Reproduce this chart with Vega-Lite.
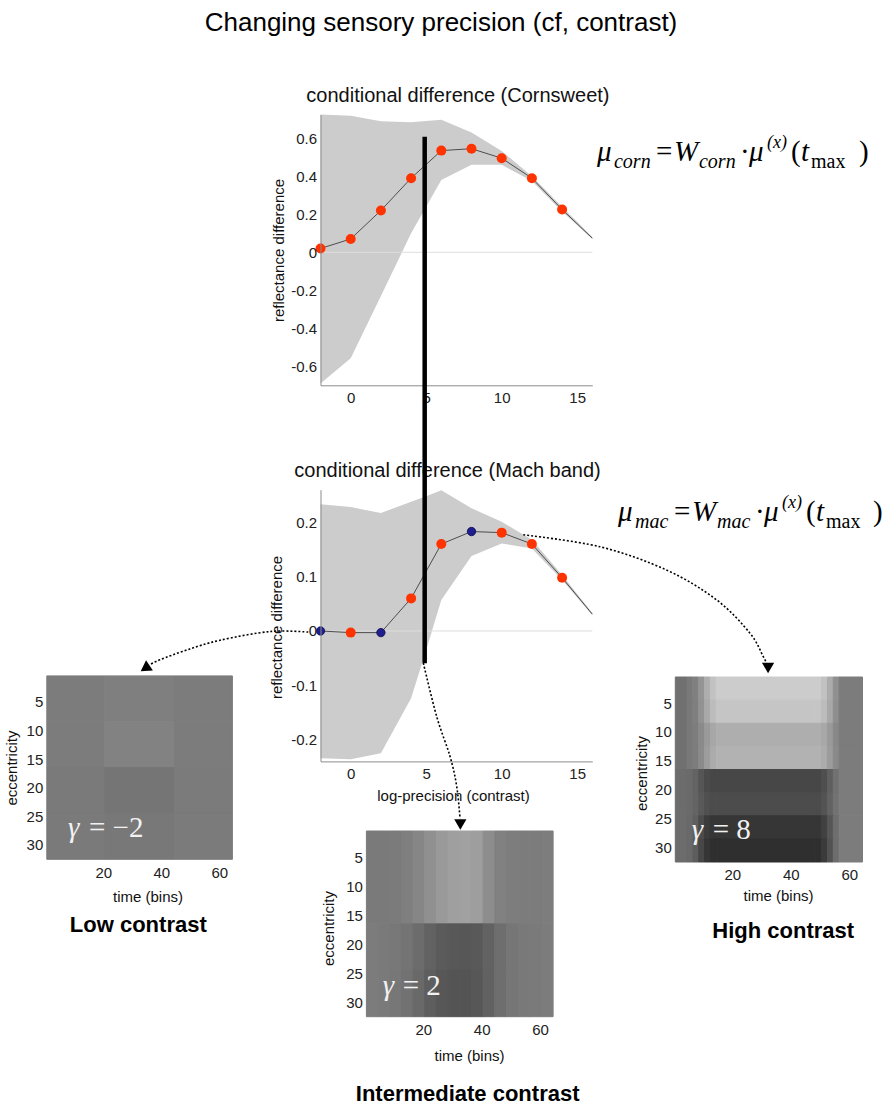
{
  "$schema": "https://vega.github.io/schema/vega-lite/v6.json",
  "width": 886,
  "height": 1108,
  "autosize": "none",
  "padding": 0,
  "background": "white",
  "config": {
    "view": {"stroke": null},
    "axis": {
      "grid": false,
      "ticks": false,
      "labelFont": "Liberation Sans",
      "labelFontSize": 15,
      "labelColor": "#222222",
      "titleFont": "Liberation Sans",
      "titleFontSize": 15,
      "titleFontWeight": "normal",
      "titleColor": "#111111",
      "domainColor": "#8c8c8c"
    }
  },
  "data": {"values": [{}]},
  "datasets": {
    "c1": [
      {"x": -2, "y": 0.02, "m": "red"},
      {"x": 0, "y": 0.07, "m": "red"},
      {"x": 2, "y": 0.22, "m": "red"},
      {"x": 4, "y": 0.39, "m": "red"},
      {"x": 6, "y": 0.535, "m": "red"},
      {"x": 8, "y": 0.545, "m": "red"},
      {"x": 10, "y": 0.495, "m": "red"},
      {"x": 12, "y": 0.39, "m": "red"},
      {"x": 14, "y": 0.225, "m": "red"},
      {"x": 16, "y": 0.074, "m": "none"}
    ],
    "b1": [
      {"x": -2, "lo": -0.69, "hi": 0.725},
      {"x": 0, "lo": -0.558, "hi": 0.719},
      {"x": 2, "lo": -0.23, "hi": 0.69},
      {"x": 4, "lo": 0.1, "hi": 0.684},
      {"x": 6, "lo": 0.38, "hi": 0.698},
      {"x": 8, "lo": 0.46, "hi": 0.63},
      {"x": 10, "lo": 0.46, "hi": 0.533},
      {"x": 12, "lo": 0.375, "hi": 0.4},
      {"x": 14, "lo": 0.215, "hi": 0.24},
      {"x": 16, "lo": 0.07, "hi": 0.08}
    ],
    "c2": [
      {"x": -2, "y": 0.0, "m": "blue"},
      {"x": 0, "y": -0.003, "m": "red"},
      {"x": 2, "y": -0.003, "m": "blue"},
      {"x": 4, "y": 0.06, "m": "red"},
      {"x": 6, "y": 0.16, "m": "red"},
      {"x": 8, "y": 0.183, "m": "blue"},
      {"x": 10, "y": 0.181, "m": "red"},
      {"x": 12, "y": 0.16, "m": "red"},
      {"x": 14, "y": 0.098, "m": "red"},
      {"x": 16, "y": 0.031, "m": "none"}
    ],
    "b2": [
      {"x": -2, "lo": -0.234, "hi": 0.233},
      {"x": 0, "lo": -0.236, "hi": 0.228},
      {"x": 2, "lo": -0.225, "hi": 0.217},
      {"x": 4, "lo": -0.124, "hi": 0.238},
      {"x": 5, "lo": -0.035, "hi": 0.248},
      {"x": 6, "lo": 0.057, "hi": 0.259},
      {"x": 8, "lo": 0.138, "hi": 0.226},
      {"x": 10, "lo": 0.161, "hi": 0.201},
      {"x": 12, "lo": 0.152, "hi": 0.168},
      {"x": 14, "lo": 0.094, "hi": 0.103},
      {"x": 16, "lo": 0.029, "hi": 0.033}
    ],
    "arrows": [
      {"a": "high", "i": 0, "x": 11.43, "y": 0.177},
      {"a": "high", "i": 1, "x": 16.51, "y": 0.155},
      {"a": "high", "i": 2, "x": 20.93, "y": 0.112},
      {"a": "high", "i": 3, "x": 24.24, "y": 0.057},
      {"a": "high", "i": 4, "x": 26.44, "y": -0.004},
      {"a": "high", "i": 5, "x": 27.32, "y": -0.047},
      {"a": "high", "i": 6, "x": 27.55, "y": -0.06},
      {"a": "low", "i": 0, "x": -2.81, "y": -0.002},
      {"a": "low", "i": 1, "x": -5.33, "y": -0.001},
      {"a": "low", "i": 2, "x": -8.65, "y": -0.017},
      {"a": "low", "i": 3, "x": -10.86, "y": -0.035},
      {"a": "low", "i": 4, "x": -12.63, "y": -0.053},
      {"a": "low", "i": 5, "x": -13.3, "y": -0.062},
      {"a": "mid", "i": 0, "x": 4.81, "y": -0.059},
      {"a": "mid", "i": 1, "x": 5.7, "y": -0.158},
      {"a": "mid", "i": 2, "x": 6.58, "y": -0.231},
      {"a": "mid", "i": 3, "x": 7.02, "y": -0.286},
      {"a": "mid", "i": 4, "x": 7.24, "y": -0.345}
    ],
    "heat": [
      {"map": "L", "t0": 0.5, "t1": 20.5, "e0": 0.5, "e1": 8.5, "v": 124},
      {"map": "L", "t0": 20.5, "t1": 44.5, "e0": 0.5, "e1": 8.5, "v": 127},
      {"map": "L", "t0": 44.5, "t1": 64.5, "e0": 0.5, "e1": 8.5, "v": 124},
      {"map": "L", "t0": 0.5, "t1": 20.5, "e0": 8.5, "e1": 16.5, "v": 124},
      {"map": "L", "t0": 20.5, "t1": 44.5, "e0": 8.5, "e1": 16.5, "v": 130},
      {"map": "L", "t0": 44.5, "t1": 64.5, "e0": 8.5, "e1": 16.5, "v": 124},
      {"map": "L", "t0": 0.5, "t1": 20.5, "e0": 16.5, "e1": 24.5, "v": 122},
      {"map": "L", "t0": 20.5, "t1": 44.5, "e0": 16.5, "e1": 24.5, "v": 117},
      {"map": "L", "t0": 44.5, "t1": 64.5, "e0": 16.5, "e1": 24.5, "v": 123},
      {"map": "L", "t0": 0.5, "t1": 20.5, "e0": 24.5, "e1": 32.5, "v": 122},
      {"map": "L", "t0": 20.5, "t1": 44.5, "e0": 24.5, "e1": 32.5, "v": 120},
      {"map": "L", "t0": 44.5, "t1": 64.5, "e0": 24.5, "e1": 32.5, "v": 123},

      {"map": "I", "t0": 0.5, "t1": 4.5, "e0": 0.5, "e1": 16.5, "v": 122},
      {"map": "I", "t0": 4.5, "t1": 8.5, "e0": 0.5, "e1": 16.5, "v": 122},
      {"map": "I", "t0": 8.5, "t1": 12.5, "e0": 0.5, "e1": 16.5, "v": 123},
      {"map": "I", "t0": 12.5, "t1": 16.5, "e0": 0.5, "e1": 16.5, "v": 127},
      {"map": "I", "t0": 16.5, "t1": 20.5, "e0": 0.5, "e1": 16.5, "v": 134},
      {"map": "I", "t0": 20.5, "t1": 24.5, "e0": 0.5, "e1": 16.5, "v": 144},
      {"map": "I", "t0": 24.5, "t1": 28.5, "e0": 0.5, "e1": 16.5, "v": 153},
      {"map": "I", "t0": 28.5, "t1": 32.5, "e0": 0.5, "e1": 16.5, "v": 159},
      {"map": "I", "t0": 32.5, "t1": 36.5, "e0": 0.5, "e1": 16.5, "v": 161},
      {"map": "I", "t0": 36.5, "t1": 40.5, "e0": 0.5, "e1": 16.5, "v": 158},
      {"map": "I", "t0": 40.5, "t1": 44.5, "e0": 0.5, "e1": 16.5, "v": 141},
      {"map": "I", "t0": 44.5, "t1": 48.5, "e0": 0.5, "e1": 16.5, "v": 129},
      {"map": "I", "t0": 48.5, "t1": 52.5, "e0": 0.5, "e1": 16.5, "v": 125},
      {"map": "I", "t0": 52.5, "t1": 56.5, "e0": 0.5, "e1": 16.5, "v": 124},
      {"map": "I", "t0": 56.5, "t1": 60.5, "e0": 0.5, "e1": 16.5, "v": 124},
      {"map": "I", "t0": 60.5, "t1": 64.5, "e0": 0.5, "e1": 16.5, "v": 125},
      {"map": "I", "t0": 0.5, "t1": 4.5, "e0": 16.5, "e1": 24.5, "v": 124},
      {"map": "I", "t0": 4.5, "t1": 8.5, "e0": 16.5, "e1": 24.5, "v": 122},
      {"map": "I", "t0": 8.5, "t1": 12.5, "e0": 16.5, "e1": 24.5, "v": 120},
      {"map": "I", "t0": 12.5, "t1": 16.5, "e0": 16.5, "e1": 24.5, "v": 116},
      {"map": "I", "t0": 16.5, "t1": 20.5, "e0": 16.5, "e1": 24.5, "v": 108},
      {"map": "I", "t0": 20.5, "t1": 24.5, "e0": 16.5, "e1": 24.5, "v": 98},
      {"map": "I", "t0": 24.5, "t1": 28.5, "e0": 16.5, "e1": 24.5, "v": 91},
      {"map": "I", "t0": 28.5, "t1": 32.5, "e0": 16.5, "e1": 24.5, "v": 88},
      {"map": "I", "t0": 32.5, "t1": 36.5, "e0": 16.5, "e1": 24.5, "v": 87},
      {"map": "I", "t0": 36.5, "t1": 40.5, "e0": 16.5, "e1": 24.5, "v": 89},
      {"map": "I", "t0": 40.5, "t1": 44.5, "e0": 16.5, "e1": 24.5, "v": 98},
      {"map": "I", "t0": 44.5, "t1": 48.5, "e0": 16.5, "e1": 24.5, "v": 110},
      {"map": "I", "t0": 48.5, "t1": 52.5, "e0": 16.5, "e1": 24.5, "v": 118},
      {"map": "I", "t0": 52.5, "t1": 56.5, "e0": 16.5, "e1": 24.5, "v": 121},
      {"map": "I", "t0": 56.5, "t1": 60.5, "e0": 16.5, "e1": 24.5, "v": 122},
      {"map": "I", "t0": 60.5, "t1": 64.5, "e0": 16.5, "e1": 24.5, "v": 124},
      {"map": "I", "t0": 0.5, "t1": 4.5, "e0": 24.5, "e1": 32.5, "v": 124},
      {"map": "I", "t0": 4.5, "t1": 8.5, "e0": 24.5, "e1": 32.5, "v": 122},
      {"map": "I", "t0": 8.5, "t1": 12.5, "e0": 24.5, "e1": 32.5, "v": 119},
      {"map": "I", "t0": 12.5, "t1": 16.5, "e0": 24.5, "e1": 32.5, "v": 114},
      {"map": "I", "t0": 16.5, "t1": 20.5, "e0": 24.5, "e1": 32.5, "v": 105},
      {"map": "I", "t0": 20.5, "t1": 24.5, "e0": 24.5, "e1": 32.5, "v": 94},
      {"map": "I", "t0": 24.5, "t1": 28.5, "e0": 24.5, "e1": 32.5, "v": 87},
      {"map": "I", "t0": 28.5, "t1": 32.5, "e0": 24.5, "e1": 32.5, "v": 84},
      {"map": "I", "t0": 32.5, "t1": 36.5, "e0": 24.5, "e1": 32.5, "v": 84},
      {"map": "I", "t0": 36.5, "t1": 40.5, "e0": 24.5, "e1": 32.5, "v": 87},
      {"map": "I", "t0": 40.5, "t1": 44.5, "e0": 24.5, "e1": 32.5, "v": 97},
      {"map": "I", "t0": 44.5, "t1": 48.5, "e0": 24.5, "e1": 32.5, "v": 110},
      {"map": "I", "t0": 48.5, "t1": 52.5, "e0": 24.5, "e1": 32.5, "v": 118},
      {"map": "I", "t0": 52.5, "t1": 56.5, "e0": 24.5, "e1": 32.5, "v": 121},
      {"map": "I", "t0": 56.5, "t1": 60.5, "e0": 24.5, "e1": 32.5, "v": 122},
      {"map": "I", "t0": 60.5, "t1": 64.5, "e0": 24.5, "e1": 32.5, "v": 124},

      {"map": "H", "t0": 0.5, "t1": 4.5, "e0": 0.5, "e1": 4.5, "v": 112},
      {"map": "H", "t0": 4.5, "t1": 6.5, "e0": 0.5, "e1": 4.5, "v": 121},
      {"map": "H", "t0": 6.5, "t1": 8.5, "e0": 0.5, "e1": 4.5, "v": 128},
      {"map": "H", "t0": 8.5, "t1": 10.5, "e0": 0.5, "e1": 4.5, "v": 148},
      {"map": "H", "t0": 10.5, "t1": 12.5, "e0": 0.5, "e1": 4.5, "v": 174},
      {"map": "H", "t0": 12.5, "t1": 14.5, "e0": 0.5, "e1": 4.5, "v": 194},
      {"map": "H", "t0": 14.5, "t1": 48.5, "e0": 0.5, "e1": 4.5, "v": 204},
      {"map": "H", "t0": 48.5, "t1": 50.5, "e0": 0.5, "e1": 4.5, "v": 204},
      {"map": "H", "t0": 50.5, "t1": 52.5, "e0": 0.5, "e1": 4.5, "v": 194},
      {"map": "H", "t0": 52.5, "t1": 54.5, "e0": 0.5, "e1": 4.5, "v": 172},
      {"map": "H", "t0": 54.5, "t1": 56.5, "e0": 0.5, "e1": 4.5, "v": 144},
      {"map": "H", "t0": 56.5, "t1": 64.5, "e0": 0.5, "e1": 4.5, "v": 124},
      {"map": "H", "t0": 0.5, "t1": 4.5, "e0": 4.5, "e1": 8.5, "v": 112},
      {"map": "H", "t0": 4.5, "t1": 6.5, "e0": 4.5, "e1": 8.5, "v": 120},
      {"map": "H", "t0": 6.5, "t1": 8.5, "e0": 4.5, "e1": 8.5, "v": 127},
      {"map": "H", "t0": 8.5, "t1": 10.5, "e0": 4.5, "e1": 8.5, "v": 146},
      {"map": "H", "t0": 10.5, "t1": 12.5, "e0": 4.5, "e1": 8.5, "v": 169},
      {"map": "H", "t0": 12.5, "t1": 14.5, "e0": 4.5, "e1": 8.5, "v": 188},
      {"map": "H", "t0": 14.5, "t1": 48.5, "e0": 4.5, "e1": 8.5, "v": 197},
      {"map": "H", "t0": 48.5, "t1": 50.5, "e0": 4.5, "e1": 8.5, "v": 197},
      {"map": "H", "t0": 50.5, "t1": 52.5, "e0": 4.5, "e1": 8.5, "v": 188},
      {"map": "H", "t0": 52.5, "t1": 54.5, "e0": 4.5, "e1": 8.5, "v": 168},
      {"map": "H", "t0": 54.5, "t1": 56.5, "e0": 4.5, "e1": 8.5, "v": 142},
      {"map": "H", "t0": 56.5, "t1": 64.5, "e0": 4.5, "e1": 8.5, "v": 124},
      {"map": "H", "t0": 0.5, "t1": 4.5, "e0": 8.5, "e1": 12.5, "v": 112},
      {"map": "H", "t0": 4.5, "t1": 6.5, "e0": 8.5, "e1": 12.5, "v": 120},
      {"map": "H", "t0": 6.5, "t1": 8.5, "e0": 8.5, "e1": 12.5, "v": 125},
      {"map": "H", "t0": 8.5, "t1": 10.5, "e0": 8.5, "e1": 12.5, "v": 138},
      {"map": "H", "t0": 10.5, "t1": 12.5, "e0": 8.5, "e1": 12.5, "v": 154},
      {"map": "H", "t0": 12.5, "t1": 14.5, "e0": 8.5, "e1": 12.5, "v": 167},
      {"map": "H", "t0": 14.5, "t1": 48.5, "e0": 8.5, "e1": 12.5, "v": 174},
      {"map": "H", "t0": 48.5, "t1": 50.5, "e0": 8.5, "e1": 12.5, "v": 174},
      {"map": "H", "t0": 50.5, "t1": 52.5, "e0": 8.5, "e1": 12.5, "v": 168},
      {"map": "H", "t0": 52.5, "t1": 54.5, "e0": 8.5, "e1": 12.5, "v": 154},
      {"map": "H", "t0": 54.5, "t1": 56.5, "e0": 8.5, "e1": 12.5, "v": 136},
      {"map": "H", "t0": 56.5, "t1": 64.5, "e0": 8.5, "e1": 12.5, "v": 124},
      {"map": "H", "t0": 0.5, "t1": 4.5, "e0": 12.5, "e1": 16.5, "v": 112},
      {"map": "H", "t0": 4.5, "t1": 6.5, "e0": 12.5, "e1": 16.5, "v": 120},
      {"map": "H", "t0": 6.5, "t1": 8.5, "e0": 12.5, "e1": 16.5, "v": 125},
      {"map": "H", "t0": 8.5, "t1": 10.5, "e0": 12.5, "e1": 16.5, "v": 139},
      {"map": "H", "t0": 10.5, "t1": 12.5, "e0": 12.5, "e1": 16.5, "v": 157},
      {"map": "H", "t0": 12.5, "t1": 14.5, "e0": 12.5, "e1": 16.5, "v": 171},
      {"map": "H", "t0": 14.5, "t1": 48.5, "e0": 12.5, "e1": 16.5, "v": 178},
      {"map": "H", "t0": 48.5, "t1": 50.5, "e0": 12.5, "e1": 16.5, "v": 178},
      {"map": "H", "t0": 50.5, "t1": 52.5, "e0": 12.5, "e1": 16.5, "v": 172},
      {"map": "H", "t0": 52.5, "t1": 54.5, "e0": 12.5, "e1": 16.5, "v": 156},
      {"map": "H", "t0": 54.5, "t1": 56.5, "e0": 12.5, "e1": 16.5, "v": 138},
      {"map": "H", "t0": 56.5, "t1": 64.5, "e0": 12.5, "e1": 16.5, "v": 124},
      {"map": "H", "t0": 0.5, "t1": 4.5, "e0": 16.5, "e1": 20.5, "v": 108},
      {"map": "H", "t0": 4.5, "t1": 6.5, "e0": 16.5, "e1": 20.5, "v": 106},
      {"map": "H", "t0": 6.5, "t1": 8.5, "e0": 16.5, "e1": 20.5, "v": 99},
      {"map": "H", "t0": 8.5, "t1": 10.5, "e0": 16.5, "e1": 20.5, "v": 86},
      {"map": "H", "t0": 10.5, "t1": 12.5, "e0": 16.5, "e1": 20.5, "v": 75},
      {"map": "H", "t0": 12.5, "t1": 14.5, "e0": 16.5, "e1": 20.5, "v": 71},
      {"map": "H", "t0": 14.5, "t1": 48.5, "e0": 16.5, "e1": 20.5, "v": 71},
      {"map": "H", "t0": 48.5, "t1": 50.5, "e0": 16.5, "e1": 20.5, "v": 71},
      {"map": "H", "t0": 50.5, "t1": 52.5, "e0": 16.5, "e1": 20.5, "v": 79},
      {"map": "H", "t0": 52.5, "t1": 54.5, "e0": 16.5, "e1": 20.5, "v": 95},
      {"map": "H", "t0": 54.5, "t1": 56.5, "e0": 16.5, "e1": 20.5, "v": 113},
      {"map": "H", "t0": 56.5, "t1": 64.5, "e0": 16.5, "e1": 20.5, "v": 124},
      {"map": "H", "t0": 0.5, "t1": 4.5, "e0": 20.5, "e1": 24.5, "v": 108},
      {"map": "H", "t0": 4.5, "t1": 6.5, "e0": 20.5, "e1": 24.5, "v": 106},
      {"map": "H", "t0": 6.5, "t1": 8.5, "e0": 20.5, "e1": 24.5, "v": 100},
      {"map": "H", "t0": 8.5, "t1": 10.5, "e0": 20.5, "e1": 24.5, "v": 89},
      {"map": "H", "t0": 10.5, "t1": 12.5, "e0": 20.5, "e1": 24.5, "v": 80},
      {"map": "H", "t0": 12.5, "t1": 14.5, "e0": 20.5, "e1": 24.5, "v": 76},
      {"map": "H", "t0": 14.5, "t1": 48.5, "e0": 20.5, "e1": 24.5, "v": 76},
      {"map": "H", "t0": 48.5, "t1": 50.5, "e0": 20.5, "e1": 24.5, "v": 76},
      {"map": "H", "t0": 50.5, "t1": 52.5, "e0": 20.5, "e1": 24.5, "v": 83},
      {"map": "H", "t0": 52.5, "t1": 54.5, "e0": 20.5, "e1": 24.5, "v": 98},
      {"map": "H", "t0": 54.5, "t1": 56.5, "e0": 20.5, "e1": 24.5, "v": 114},
      {"map": "H", "t0": 56.5, "t1": 64.5, "e0": 20.5, "e1": 24.5, "v": 124},
      {"map": "H", "t0": 0.5, "t1": 4.5, "e0": 24.5, "e1": 28.5, "v": 108},
      {"map": "H", "t0": 4.5, "t1": 6.5, "e0": 24.5, "e1": 28.5, "v": 105},
      {"map": "H", "t0": 6.5, "t1": 8.5, "e0": 24.5, "e1": 28.5, "v": 95},
      {"map": "H", "t0": 8.5, "t1": 10.5, "e0": 24.5, "e1": 28.5, "v": 76},
      {"map": "H", "t0": 10.5, "t1": 12.5, "e0": 24.5, "e1": 28.5, "v": 60},
      {"map": "H", "t0": 12.5, "t1": 14.5, "e0": 24.5, "e1": 28.5, "v": 54},
      {"map": "H", "t0": 14.5, "t1": 48.5, "e0": 24.5, "e1": 28.5, "v": 54},
      {"map": "H", "t0": 48.5, "t1": 50.5, "e0": 24.5, "e1": 28.5, "v": 54},
      {"map": "H", "t0": 50.5, "t1": 52.5, "e0": 24.5, "e1": 28.5, "v": 65},
      {"map": "H", "t0": 52.5, "t1": 54.5, "e0": 24.5, "e1": 28.5, "v": 86},
      {"map": "H", "t0": 54.5, "t1": 56.5, "e0": 24.5, "e1": 28.5, "v": 110},
      {"map": "H", "t0": 56.5, "t1": 64.5, "e0": 24.5, "e1": 28.5, "v": 124},
      {"map": "H", "t0": 0.5, "t1": 4.5, "e0": 28.5, "e1": 32.5, "v": 108},
      {"map": "H", "t0": 4.5, "t1": 6.5, "e0": 28.5, "e1": 32.5, "v": 105},
      {"map": "H", "t0": 6.5, "t1": 8.5, "e0": 28.5, "e1": 32.5, "v": 93},
      {"map": "H", "t0": 8.5, "t1": 10.5, "e0": 28.5, "e1": 32.5, "v": 71},
      {"map": "H", "t0": 10.5, "t1": 12.5, "e0": 28.5, "e1": 32.5, "v": 54},
      {"map": "H", "t0": 12.5, "t1": 14.5, "e0": 28.5, "e1": 32.5, "v": 47},
      {"map": "H", "t0": 14.5, "t1": 48.5, "e0": 28.5, "e1": 32.5, "v": 47},
      {"map": "H", "t0": 48.5, "t1": 50.5, "e0": 28.5, "e1": 32.5, "v": 47},
      {"map": "H", "t0": 50.5, "t1": 52.5, "e0": 28.5, "e1": 32.5, "v": 59},
      {"map": "H", "t0": 52.5, "t1": 54.5, "e0": 28.5, "e1": 32.5, "v": 82},
      {"map": "H", "t0": 54.5, "t1": 56.5, "e0": 28.5, "e1": 32.5, "v": 109},
      {"map": "H", "t0": 56.5, "t1": 64.5, "e0": 28.5, "e1": 32.5, "v": 124}
    ]
  },
  "layer": [
    {
      "layer": [
        {
          "data": {"name": "heat"},
          "transform": [{"filter": "datum.map == 'L'"}],
          "mark": {"type": "rect", "strokeWidth": 1},
          "encoding": {
            "x": {"field": "t0", "type": "quantitative", "scale": {"domain": [0.5, 64.5], "range": [46.8, 232.4], "nice": false, "zero": false},
              "axis": {"orient": "bottom", "offset": -248.7, "values": [20, 40, 60], "domain": false, "labelPadding": 6, "title": "time (bins)", "titleX": 147.5, "titleY": 37.4, "titleBaseline": "middle", "titleAlign": "center"}},
            "x2": {"field": "t1"},
            "y": {"field": "e0", "type": "quantitative", "scale": {"domain": [0.5, 32.5], "range": [675.9, 859.3], "nice": false, "zero": false},
              "axis": {"orient": "left", "offset": -46.8, "values": [5, 10, 15, 20, 25, 30], "domain": false, "labelPadding": 4, "title": "eccentricity", "titleX": -35.1, "titleY": 767.6, "titleBaseline": "middle", "titleAlign": "center", "titleAngle": -90}},
            "y2": {"field": "e1"},
            "color": {"field": "v", "type": "quantitative", "scale": {"domain": [0, 255], "range": ["#000000", "#ffffff"], "interpolate": "rgb"}, "legend": null},
            "stroke": {"field": "v", "type": "quantitative", "scale": {"domain": [0, 255], "range": ["#000000", "#ffffff"], "interpolate": "rgb"}, "legend": null}
          }
        },
        {
          "encoding": {"x": {"datum": 7.8, "type": "quantitative"}, "y": {"datum": 28.6, "type": "quantitative"}},
          "layer": [
            {"mark": {"type": "text", "text": "γ", "font": "Liberation Serif", "fontSize": 29, "fontStyle": "italic", "color": "#f2f2f2", "align": "left", "baseline": "alphabetic"}},
            {"mark": {"type": "text", "text": "= −2", "font": "Liberation Serif", "fontSize": 29, "color": "#f2f2f2", "align": "left", "baseline": "alphabetic", "dx": 21}}
          ]
        },
        {
          "mark": {"type": "text", "text": "Low contrast", "font": "Liberation Sans", "fontSize": 22, "fontWeight": "bold", "color": "#000000", "align": "center", "baseline": "alphabetic"},
          "encoding": {"x": {"datum": 32.05, "type": "quantitative"}, "y": {"datum": 45.1, "type": "quantitative"}}
        }
      ]
    },
    {
      "layer": [
        {
          "data": {"name": "heat"},
          "transform": [{"filter": "datum.map == 'I'"}],
          "mark": {"type": "rect", "strokeWidth": 1},
          "encoding": {
            "x": {"field": "t0", "type": "quantitative", "scale": {"domain": [0.5, 64.5], "range": [366.4, 553.1], "nice": false, "zero": false},
              "axis": {"orient": "bottom", "offset": -91.3, "values": [20, 40, 60], "domain": false, "labelPadding": 6, "title": "time (bins)", "titleX": 469, "titleY": 38.3, "titleBaseline": "middle", "titleAlign": "center"}},
            "x2": {"field": "t1"},
            "y": {"field": "e0", "type": "quantitative", "scale": {"domain": [0.5, 32.5], "range": [831, 1016.7], "nice": false, "zero": false},
              "axis": {"orient": "left", "offset": -366.4, "values": [5, 10, 15, 20, 25, 30], "domain": false, "labelPadding": 4, "title": "eccentricity", "titleX": -38.1, "titleY": 928, "titleBaseline": "middle", "titleAlign": "center", "titleAngle": -90}},
            "y2": {"field": "e1"},
            "color": {"field": "v", "type": "quantitative", "scale": {"domain": [0, 255], "range": ["#000000", "#ffffff"], "interpolate": "rgb"}, "legend": null},
            "stroke": {"field": "v", "type": "quantitative", "scale": {"domain": [0, 255], "range": ["#000000", "#ffffff"], "interpolate": "rgb"}, "legend": null}
          }
        },
        {
          "encoding": {"x": {"datum": 6.1, "type": "quantitative"}, "y": {"datum": 28.8, "type": "quantitative"}},
          "layer": [
            {"mark": {"type": "text", "text": "γ", "font": "Liberation Serif", "fontSize": 29, "fontStyle": "italic", "color": "#f2f2f2", "align": "left", "baseline": "alphabetic"}},
            {"mark": {"type": "text", "text": "= 2", "font": "Liberation Serif", "fontSize": 29, "color": "#f2f2f2", "align": "left", "baseline": "alphabetic", "dx": 20}}
          ]
        },
        {
          "mark": {"type": "text", "text": "Intermediate contrast", "font": "Liberation Sans", "fontSize": 22, "fontWeight": "bold", "color": "#000000", "align": "center", "baseline": "alphabetic"},
          "encoding": {"x": {"datum": 35.2, "type": "quantitative"}, "y": {"datum": 47.05, "type": "quantitative"}}
        }
      ]
    },
    {
      "layer": [
        {
          "data": {"name": "heat"},
          "transform": [{"filter": "datum.map == 'H'"}],
          "mark": {"type": "rect", "strokeWidth": 1},
          "encoding": {
            "x": {"field": "t0", "type": "quantitative", "scale": {"domain": [0.5, 64.5], "range": [675.3, 862.5], "nice": false, "zero": false},
              "axis": {"orient": "bottom", "offset": -246, "values": [20, 40, 60], "domain": false, "labelPadding": 5, "title": "time (bins)", "titleX": 778, "titleY": 33, "titleBaseline": "middle", "titleAlign": "center"}},
            "x2": {"field": "t1"},
            "y": {"field": "e0", "type": "quantitative", "scale": {"domain": [0.5, 32.5], "range": [677, 862], "nice": false, "zero": false},
              "axis": {"orient": "left", "offset": -675.3, "values": [5, 10, 15, 20, 25, 30], "domain": false, "labelPadding": 4, "title": "eccentricity", "titleX": -33.6, "titleY": 773, "titleBaseline": "middle", "titleAlign": "center", "titleAngle": -90}},
            "y2": {"field": "e1"},
            "color": {"field": "v", "type": "quantitative", "scale": {"domain": [0, 255], "range": ["#000000", "#ffffff"], "interpolate": "rgb"}, "legend": null},
            "stroke": {"field": "v", "type": "quantitative", "scale": {"domain": [0, 255], "range": ["#000000", "#ffffff"], "interpolate": "rgb"}, "legend": null}
          }
        },
        {
          "encoding": {"x": {"datum": 6.1, "type": "quantitative"}, "y": {"datum": 28.5, "type": "quantitative"}},
          "layer": [
            {"mark": {"type": "text", "text": "γ", "font": "Liberation Serif", "fontSize": 29, "fontStyle": "italic", "color": "#f2f2f2", "align": "left", "baseline": "alphabetic"}},
            {"mark": {"type": "text", "text": "= 8", "font": "Liberation Serif", "fontSize": 29, "color": "#f2f2f2", "align": "left", "baseline": "alphabetic", "dx": 21}}
          ]
        },
        {
          "mark": {"type": "text", "text": "High contrast", "font": "Liberation Sans", "fontSize": 22, "fontWeight": "bold", "color": "#000000", "align": "center", "baseline": "alphabetic"},
          "encoding": {"x": {"datum": 37.4, "type": "quantitative"}, "y": {"datum": 45.6, "type": "quantitative"}}
        }
      ]
    },
    {
      "layer": [
        {
          "data": {"name": "b2"},
          "mark": {"type": "area", "color": "#cccccc"},
          "encoding": {
            "x": {"field": "x", "type": "quantitative", "scale": {"domain": [-2, 16], "range": [320.5, 592.3], "nice": false, "zero": false},
              "axis": {"orient": "bottom", "offset": -346.6, "values": [0, 5, 10, 15], "title": "log-precision (contrast)", "labelPadding": 5, "titleX": 453, "titleY": 33.6, "titleBaseline": "middle", "titleAlign": "center", "zindex": 0}},
            "y": {"field": "lo", "type": "quantitative", "scale": {"domain": [-0.24, 0.26], "range": [761.4, 489.7], "nice": false, "zero": false},
              "axis": {"orient": "left", "offset": -320.5, "values": [-0.2, -0.1, 0, 0.1, 0.2], "labelExpr": "datum.value == 0 ? '0' : replace(format(datum.value, '.1f'), '\u2212', '-')", "title": "reflectance difference", "labelPadding": 4, "titleX": -43.8, "titleY": 627, "titleBaseline": "middle", "titleAlign": "center", "titleAngle": -90, "zindex": 1}},
            "y2": {"field": "hi"}
          }
        },
        {
          "mark": {"type": "rule", "color": "#dedede", "strokeWidth": 1},
          "encoding": {"x": {"datum": -2, "type": "quantitative"}, "x2": {"datum": 16}, "y": {"datum": 0, "type": "quantitative"}}
        },
        {
          "data": {"name": "c2"},
          "mark": {"type": "line", "color": "#4d4d4d", "strokeWidth": 1},
          "encoding": {"x": {"field": "x", "type": "quantitative"}, "y": {"field": "y", "type": "quantitative"}}
        },
        {
          "data": {"name": "c2"},
          "transform": [{"filter": "datum.m == 'red'"}],
          "mark": {"type": "circle", "size": 100, "opacity": 1, "color": "#ff3300"},
          "encoding": {"x": {"field": "x", "type": "quantitative"}, "y": {"field": "y", "type": "quantitative"}}
        },
        {
          "data": {"name": "c2"},
          "transform": [{"filter": "datum.m == 'blue'"}],
          "mark": {"type": "circle", "size": 70, "opacity": 1, "color": "#1f1f8f", "stroke": "#0a0a50", "strokeWidth": 0.8},
          "encoding": {"x": {"field": "x", "type": "quantitative"}, "y": {"field": "y", "type": "quantitative"}}
        },
        {
          "data": {"name": "arrows"},
          "mark": {"type": "line", "color": "#000000", "strokeWidth": 1.6, "strokeDash": [2, 2], "interpolate": "cardinal"},
          "encoding": {
            "x": {"field": "x", "type": "quantitative"},
            "y": {"field": "y", "type": "quantitative"},
            "detail": {"field": "a"},
            "order": {"field": "i", "type": "quantitative"}
          }
        },
        {
          "mark": {"type": "point", "shape": "triangle-down", "filled": true, "size": 150, "color": "#000000", "opacity": 1},
          "encoding": {"x": {"datum": 27.64, "type": "quantitative"}, "y": {"datum": -0.068, "type": "quantitative"}}
        },
        {
          "mark": {"type": "point", "shape": "triangle-down", "filled": true, "size": 150, "color": "#000000", "opacity": 1},
          "encoding": {"x": {"datum": 7.26, "type": "quantitative"}, "y": {"datum": -0.356, "type": "quantitative"}}
        },
        {
          "mark": {"type": "point", "shape": "triangle", "angle": 236, "filled": true, "size": 150, "color": "#000000", "opacity": 1},
          "encoding": {"x": {"datum": -13.52, "type": "quantitative"}, "y": {"datum": -0.067, "type": "quantitative"}}
        },
        {
          "mark": {"type": "text", "text": "conditional difference (Mach band)", "font": "Liberation Sans", "fontSize": 20, "color": "#111111", "align": "center", "baseline": "alphabetic"},
          "encoding": {"x": {"datum": 6.41, "type": "quantitative"}, "y": {"datum": 0.283, "type": "quantitative"}}
        },
        {
          "encoding": {"x": {"datum": 17.7, "type": "quantitative"}, "y": {"datum": 0.2024, "type": "quantitative"}},
          "layer": [
            {"mark": {"type": "text", "text": "μ", "font": "Liberation Serif", "fontSize": 29, "fontStyle": "italic", "align": "left", "baseline": "alphabetic", "color": "#000", "dx": 0}},
            {"mark": {"type": "text", "text": "mac", "font": "Liberation Serif", "fontSize": 20, "fontStyle": "italic", "align": "left", "baseline": "alphabetic", "color": "#000", "dx": 17, "dy": 7}},
            {"mark": {"type": "text", "text": "=", "font": "Liberation Serif", "fontSize": 29, "align": "left", "baseline": "alphabetic", "color": "#000", "dx": 56}},
            {"mark": {"type": "text", "text": "W", "font": "Liberation Serif", "fontSize": 29, "fontStyle": "italic", "align": "left", "baseline": "alphabetic", "color": "#000", "dx": 74}},
            {"mark": {"type": "text", "text": "mac", "font": "Liberation Serif", "fontSize": 20, "fontStyle": "italic", "align": "left", "baseline": "alphabetic", "color": "#000", "dx": 99, "dy": 7}},
            {"mark": {"type": "text", "text": "·", "font": "Liberation Serif", "fontSize": 29, "align": "left", "baseline": "alphabetic", "color": "#000", "dx": 137}},
            {"mark": {"type": "text", "text": "μ", "font": "Liberation Serif", "fontSize": 29, "fontStyle": "italic", "align": "left", "baseline": "alphabetic", "color": "#000", "dx": 146}},
            {"mark": {"type": "text", "text": "(x)", "font": "Liberation Serif", "fontSize": 18, "fontStyle": "italic", "align": "left", "baseline": "alphabetic", "color": "#000", "dx": 164, "dy": -13}},
            {"mark": {"type": "text", "text": "(", "font": "Liberation Serif", "fontSize": 29, "align": "left", "baseline": "alphabetic", "color": "#000", "dx": 188}},
            {"mark": {"type": "text", "text": "t", "font": "Liberation Serif", "fontSize": 29, "fontStyle": "italic", "align": "left", "baseline": "alphabetic", "color": "#000", "dx": 198}},
            {"mark": {"type": "text", "text": "max", "font": "Liberation Serif", "fontSize": 20, "align": "left", "baseline": "alphabetic", "color": "#000", "dx": 208, "dy": 7}},
            {"mark": {"type": "text", "text": ")", "font": "Liberation Serif", "fontSize": 29, "align": "left", "baseline": "alphabetic", "color": "#000", "dx": 255}}
          ]
        }
      ]
    },
    {
      "layer": [
        {
          "data": {"name": "b1"},
          "mark": {"type": "area", "color": "#cccccc"},
          "encoding": {
            "x": {"field": "x", "type": "quantitative", "scale": {"domain": [-2, 16], "range": [320.5, 592.3], "nice": false, "zero": false},
              "axis": {"orient": "bottom", "offset": -722.7, "values": [0, 5, 10, 15], "title": null, "labelPadding": 5, "zindex": 0}},
            "y": {"field": "lo", "type": "quantitative", "scale": {"domain": [-0.7, 0.725], "range": [385.3, 114.5], "nice": false, "zero": false},
              "axis": {"orient": "left", "offset": -320.5, "values": [-0.6, -0.4, -0.2, 0, 0.2, 0.4, 0.6], "labelExpr": "datum.value == 0 ? '0' : replace(format(datum.value, '.1f'), '\u2212', '-')", "title": "reflectance difference", "labelPadding": 4, "titleX": -42.2, "titleY": 250, "titleBaseline": "middle", "titleAlign": "center", "titleAngle": -90, "zindex": 1}},
            "y2": {"field": "hi"}
          }
        },
        {
          "mark": {"type": "rule", "color": "#dedede", "strokeWidth": 1},
          "encoding": {"x": {"datum": -2, "type": "quantitative"}, "x2": {"datum": 16}, "y": {"datum": 0, "type": "quantitative"}}
        },
        {
          "data": {"name": "c1"},
          "mark": {"type": "line", "color": "#4d4d4d", "strokeWidth": 1},
          "encoding": {"x": {"field": "x", "type": "quantitative"}, "y": {"field": "y", "type": "quantitative"}}
        },
        {
          "data": {"name": "c1"},
          "transform": [{"filter": "datum.m == 'red'"}],
          "mark": {"type": "circle", "size": 100, "opacity": 1, "color": "#ff3300"},
          "encoding": {"x": {"field": "x", "type": "quantitative"}, "y": {"field": "y", "type": "quantitative"}}
        },
        {
          "mark": {"type": "rule", "color": "#000000", "strokeWidth": 4.5},
          "encoding": {"x": {"datum": 4.9, "type": "quantitative"}, "y": {"datum": 0.608, "type": "quantitative"}, "y2": {"datum": -2.163}}
        },
        {
          "mark": {"type": "text", "text": "Changing sensory precision (cf, contrast)", "font": "Liberation Sans", "fontSize": 26, "color": "#000000", "align": "center", "baseline": "alphabetic"},
          "encoding": {"x": {"datum": 5.98, "type": "quantitative"}, "y": {"datum": 1.166, "type": "quantitative"}}
        },
        {
          "mark": {"type": "text", "text": "conditional difference (Cornsweet)", "font": "Liberation Sans", "fontSize": 20, "color": "#111111", "align": "center", "baseline": "alphabetic"},
          "encoding": {"x": {"datum": 7.1, "type": "quantitative"}, "y": {"datum": 0.793, "type": "quantitative"}}
        },
        {
          "encoding": {"x": {"datum": 16.31, "type": "quantitative"}, "y": {"datum": 0.479, "type": "quantitative"}},
          "layer": [
            {"mark": {"type": "text", "text": "μ", "font": "Liberation Serif", "fontSize": 29, "fontStyle": "italic", "align": "left", "baseline": "alphabetic", "color": "#000", "dx": 0}},
            {"mark": {"type": "text", "text": "corn", "font": "Liberation Serif", "fontSize": 20, "fontStyle": "italic", "align": "left", "baseline": "alphabetic", "color": "#000", "dx": 17, "dy": 7}},
            {"mark": {"type": "text", "text": "=", "font": "Liberation Serif", "fontSize": 29, "align": "left", "baseline": "alphabetic", "color": "#000", "dx": 59}},
            {"mark": {"type": "text", "text": "W", "font": "Liberation Serif", "fontSize": 29, "fontStyle": "italic", "align": "left", "baseline": "alphabetic", "color": "#000", "dx": 77}},
            {"mark": {"type": "text", "text": "corn", "font": "Liberation Serif", "fontSize": 20, "fontStyle": "italic", "align": "left", "baseline": "alphabetic", "color": "#000", "dx": 102, "dy": 7}},
            {"mark": {"type": "text", "text": "·", "font": "Liberation Serif", "fontSize": 29, "align": "left", "baseline": "alphabetic", "color": "#000", "dx": 143}},
            {"mark": {"type": "text", "text": "μ", "font": "Liberation Serif", "fontSize": 29, "fontStyle": "italic", "align": "left", "baseline": "alphabetic", "color": "#000", "dx": 152}},
            {"mark": {"type": "text", "text": "(x)", "font": "Liberation Serif", "fontSize": 18, "fontStyle": "italic", "align": "left", "baseline": "alphabetic", "color": "#000", "dx": 170, "dy": -13}},
            {"mark": {"type": "text", "text": "(", "font": "Liberation Serif", "fontSize": 29, "align": "left", "baseline": "alphabetic", "color": "#000", "dx": 194}},
            {"mark": {"type": "text", "text": "t", "font": "Liberation Serif", "fontSize": 29, "fontStyle": "italic", "align": "left", "baseline": "alphabetic", "color": "#000", "dx": 204}},
            {"mark": {"type": "text", "text": "max", "font": "Liberation Serif", "fontSize": 20, "align": "left", "baseline": "alphabetic", "color": "#000", "dx": 214, "dy": 7}},
            {"mark": {"type": "text", "text": ")", "font": "Liberation Serif", "fontSize": 29, "align": "left", "baseline": "alphabetic", "color": "#000", "dx": 262}}
          ]
        }
      ]
    }
  ],
  "resolve": {
    "scale": {"x": "independent", "y": "independent"},
    "axis": {"x": "independent", "y": "independent"}
  }
}
